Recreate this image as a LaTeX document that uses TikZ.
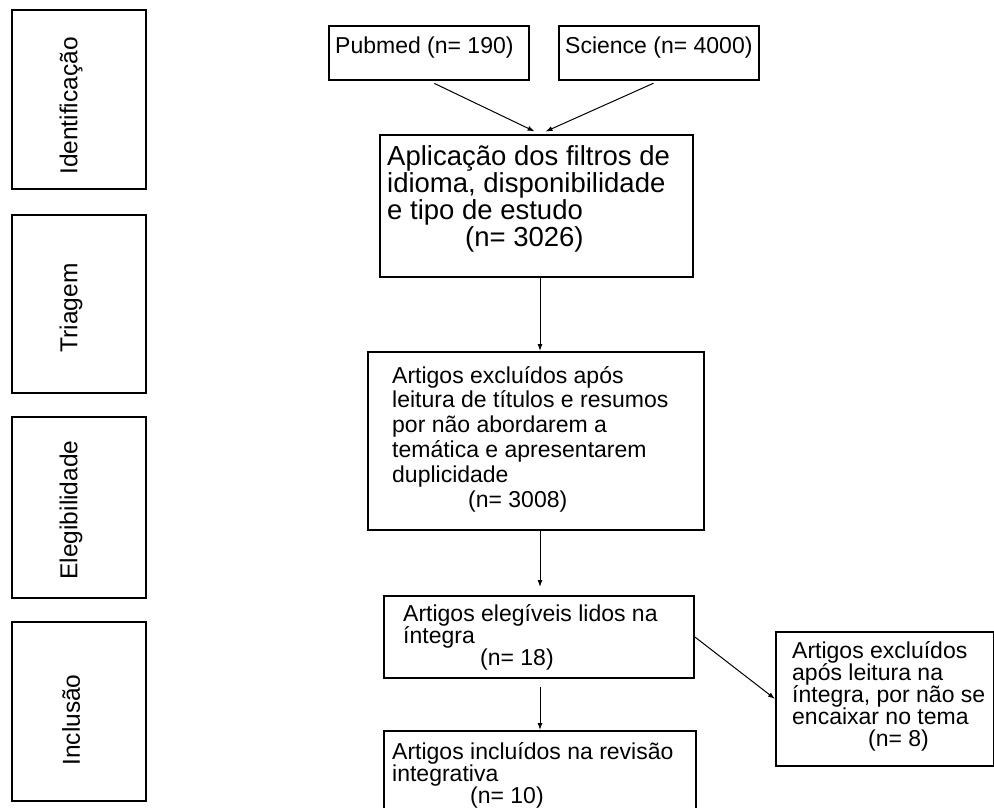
\documentclass[tikz,border=0pt]{standalone}
\usepackage{fontspec}
\setmainfont{Liberation Sans}
\usepackage{tikz}
\usetikzlibrary{arrows.meta}

\tikzset{
  caixa/.style={draw,line width=1.8pt,inner sep=0pt,anchor=north west},
  % base = linha de base da ultima linha do texto
  texto/.style={align=left,inner sep=0pt,anchor=base west,
    font=\fontsize{23}{22}\selectfont},
  etapa/.style={rotate=90,inner sep=0pt,font=\fontsize{24.5}{26}\selectfont},
  seta/.style={-{Latex[length=7pt,width=5pt]},line width=1pt},
}

\begin{document}
\begin{tikzpicture}[x=1pt,y=-1pt]
  % ここまでをバウンディングボックス内とする
  \clip (0,0) rectangle (994,807);

  % etapas (coluna da esquerda)
  \node[caixa,minimum width=134pt,minimum height=179pt] (ident) at (11,9) {};
  \node[etapa] (identT) at (71,106) {Identificação};
  \node[caixa,minimum width=134pt,minimum height=178pt] (triag) at (11,214) {};
  \node[etapa] (triagT) at (71,308) {Triagem};
  \node[caixa,minimum width=134pt,minimum height=181pt] (eleg) at (11,416) {};
  \node[etapa] (elegT) at (71,510) {Elegibilidade};
  \node[caixa,minimum width=134pt,minimum height=179pt] (inclu) at (11,621) {};
  \node[etapa] (incluT) at (71,720) {Inclusão};

  % bases de dados
  \node[caixa,minimum width=200pt,minimum height=54pt] (pub) at (328,25) {};
  \node[texto] (pubT) at (335,53) {Pubmed (n= 190)};
  \node[caixa,minimum width=200pt,minimum height=54pt] (sci) at (558,25) {};
  \node[texto] (sciT) at (565,53) {Science (n= 4000)};

  % fluxo principal
  \node[caixa,minimum width=313pt,minimum height=142pt] (apl) at (379,134) {};
  \node[texto,font=\fontsize{27.5}{26.7}\selectfont] (aplT) at (387,246) {%
    Aplicação dos filtros de\\idioma, disponibilidade\\e tipo de estudo\\
    \hspace*{78pt}(n= 3026)};
  \node[caixa,minimum width=336pt,minimum height=178pt] (excl) at (367,351) {};
  \node[texto,font=\fontsize{23}{24.8}\selectfont] (exclT) at (392,507) {%
    Artigos excluídos após\\leitura de títulos e resumos\\por não abordarem a\\
    temática e apresentarem\\duplicidade\\\hspace*{76pt}(n= 3008)};
  \node[caixa,minimum width=310pt,minimum height=82pt] (legi) at (383,595) {};
  \node[texto] (legiT) at (403,665) {%
    Artigos elegíveis lidos na\\íntegra\\\hspace*{77pt}(n= 18)};
  \node[caixa,minimum width=312pt,minimum height=100pt] (rev) at (383,730) {};
  \node[texto] (revT) at (392,803) {%
    Artigos incluídos na revisão\\integrativa\\\hspace*{78pt}(n= 10)};

  % excluídos na leitura na íntegra
  \node[caixa,minimum width=218pt,minimum height=134pt] (fora) at (775,631) {};
  \node[texto] (foraT) at (792,746) {%
    Artigos excluídos\\após leitura na\\íntegra, por não se\\encaixar no tema\\
    \hspace*{76pt}(n= 8)};

  % setas
  \coordinate (eixo) at (540,0);
  \draw[seta,shorten <=6pt,shorten >=6pt] (pub.south) -- (apl.north -| eixo);
  \draw[seta,shorten <=6pt,shorten >=6pt] (sci.south) -- (apl.north -| eixo);
  \draw[seta] (apl.south -| eixo) -- (excl.north -| eixo);
  \draw[seta,shorten >=8pt] (excl.south -| eixo) -- (legi.north -| eixo);
  \draw[seta,shorten <=8pt] (legi.south -| eixo) -- (rev.north -| eixo);
  \draw[seta] (legi.east) -- (fora.west);
\end{tikzpicture}
\end{document}
